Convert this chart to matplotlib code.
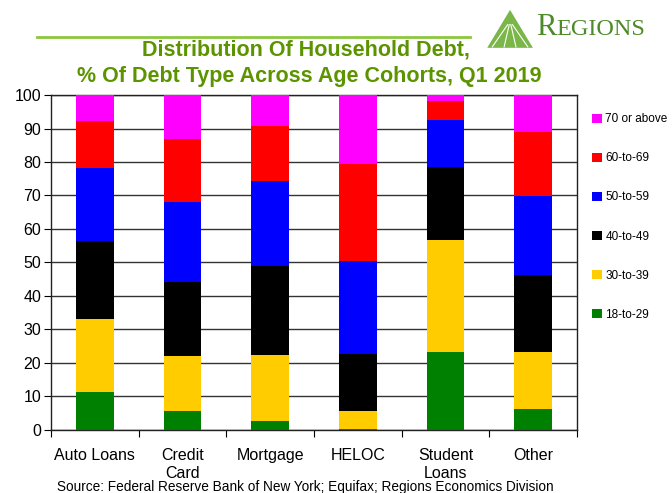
import numpy as np
import matplotlib
matplotlib.use("Agg")
import matplotlib.pyplot as plt
from matplotlib.patches import Polygon
from matplotlib.lines import Line2D

plt.rcParams['font.family'] = ['Liberation Sans', 'DejaVu Sans']

# data: cumulative tops, converted to shares
categories = ["Auto Loans", "Credit\nCard", "Mortgage", "HELOC", "Student\nLoans", "Other"]
age_groups = ["18-to-29", "30-to-39", "40-to-49", "50-to-59", "60-to-69", "70 or above"]
colors = ["#008000", "#ffcc00", "#000000", "#0000ff", "#ff0000", "#ff00ff"]

s_18_29 = [11.4, 5.6, 2.8, 0.3, 23.3, 6.3]
s_30_39 = [21.7, 16.5, 19.5, 5.3, 33.3, 16.9]
s_40_49 = [23.2, 22.0, 26.6, 17.2, 21.8, 23.0]
s_50_59 = [21.9, 24.1, 25.3, 27.7, 14.0, 23.7]
s_60_69 = [14.1, 18.7, 16.5, 29.0, 5.9, 19.0]
s_70_up = [7.7, 13.1, 9.3, 20.5, 1.7, 11.1]

series = [s_18_29, s_30_39, s_40_49, s_50_59, s_60_69, s_70_up]

green = "#5c9400"

fig = plt.figure(figsize=(6.72, 4.93), dpi=100)
ax = fig.add_axes([0.0759, 0.1278, 0.7827, 0.6795])

x = np.arange(len(categories))
bottom = np.zeros(len(categories))
handles = []
for vals, lab, col in zip(series, age_groups, colors):
    b = ax.bar(x, vals, 0.43, bottom=bottom, color=col, label=lab, zorder=3)
    bottom += np.array(vals)
    handles.append(b)

ax.set_ylim(0, 100)
ax.set_xlim(-0.5, len(categories) - 0.5)
ax.set_yticks(np.arange(0, 101, 10))
ax.yaxis.grid(True, color="#333333", linewidth=1.0, zorder=0)
ax.set_xticks(np.arange(-0.5, len(categories), 1.0))
ax.set_xticklabels([])
ax.set_xticks(x, minor=True)
ax.set_xticklabels(categories, minor=True, fontsize=11.5, linespacing=1.25)
ax.tick_params(axis="x", which="minor", length=0, pad=13)
ax.tick_params(axis="x", which="major", length=5, direction="out")
ax.tick_params(axis="y", length=5, direction="out", labelsize=11.5, pad=2)
for sp in ax.spines.values():
    sp.set_color("#222222")
    sp.set_linewidth(1.0)

# legend, top entry first
leg = ax.legend(handles[::-1], age_groups[::-1], loc="upper left",
                bbox_to_anchor=(1.02, 0.96), frameon=False, fontsize=8.5,
                handlelength=0.8, handleheight=0.8, handletextpad=0.3,
                labelspacing=2.3, borderaxespad=0)

# titles and header
fig.text(0.455, 0.898, "Distribution Of Household Debt,", ha="center", va="center",
         fontsize=15.5, fontweight="bold", color=green)
fig.text(0.46, 0.845, "% Of Debt Type Across Age Cohorts, Q1 2019", ha="center", va="center",
         fontsize=15.5, fontweight="bold", color=green)
fig.add_artist(Line2D([0.055, 0.70], [0.925, 0.925], color="#8cc63f", linewidth=2.0))

# logo
fig.add_artist(Polygon([[0.725, 0.903], [0.793, 0.903], [0.759, 0.98]], closed=True,
                       facecolor="#7ab648", edgecolor="none"))
for dx in (-0.012, -0.004, 0.004, 0.012):
    fig.add_artist(Line2D([0.759 + dx * 0.3, 0.759 + dx * 2.2], [0.95, 0.905],
                          color="white", linewidth=0.8))
fig.text(0.797, 0.945, "R", ha="left", va="center", fontsize=22,
         family=["Liberation Serif", "DejaVu Serif"], color="#4e8a2a")
fig.text(0.828, 0.94, "EGIONS", ha="left", va="center", fontsize=17.5,
         family=["Liberation Serif", "DejaVu Serif"], color="#4e8a2a")

fig.text(0.455, 0.012, "Source: Federal Reserve Bank of New York; Equifax; Regions Economics Division",
         ha="center", va="center", fontsize=9.8, color="black")

fig.savefig("out.png", dpi=100)
